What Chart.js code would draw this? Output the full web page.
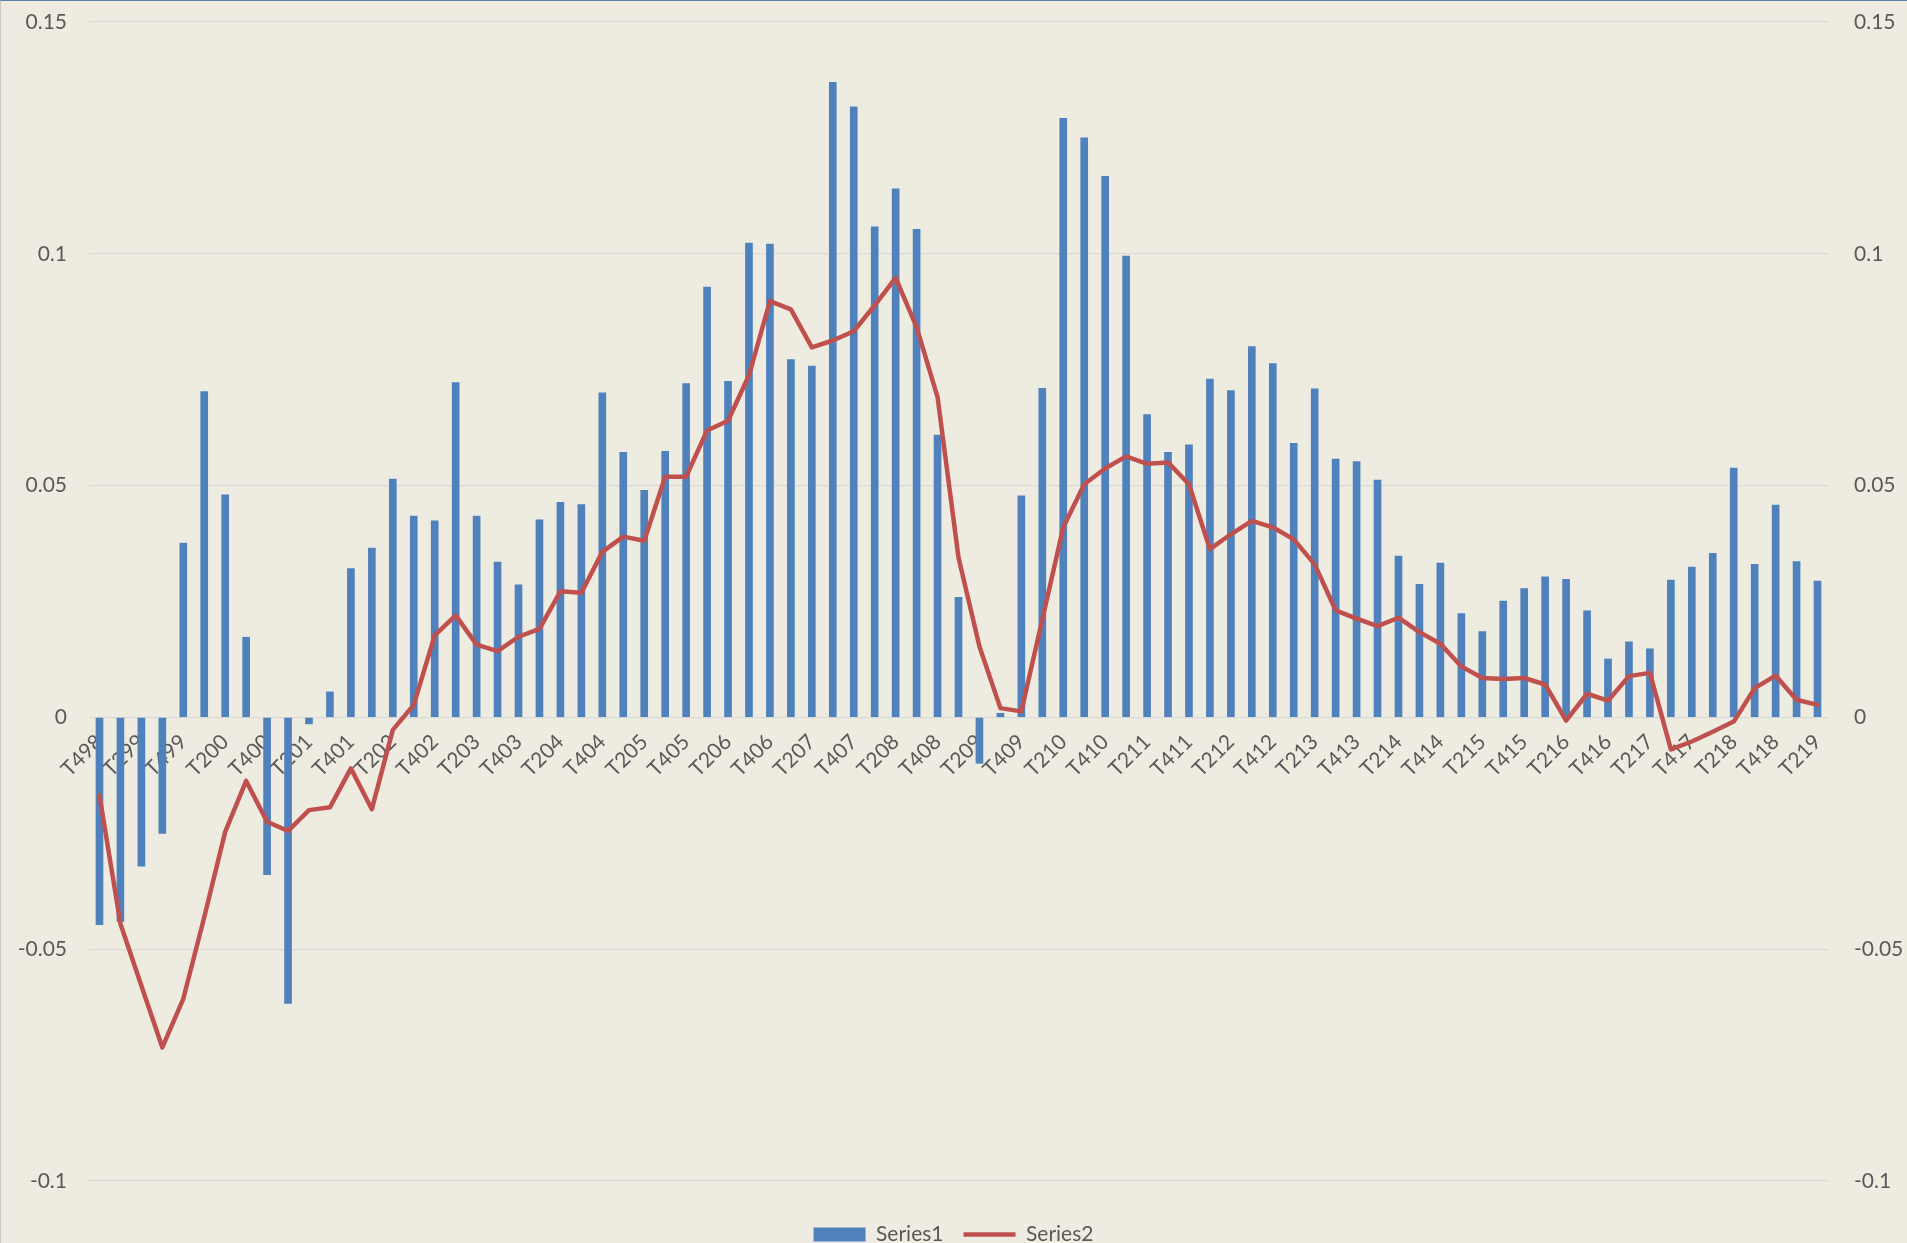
<!DOCTYPE html>
<html>
<head>
<meta charset="utf-8">
<title>Series1 / Series2</title>
<script src="https://cdn.jsdelivr.net/npm/chart.js@4.4.1/dist/chart.umd.min.js"></script>
<style>
  html, body { margin: 0; padding: 0; overflow: hidden; background: #EEECE1; }
  #wrap { position: relative; width: 1907px; height: 1255px; }
  #frame { position: absolute; left: 0; top: 0; width: 1906px; height: 1254px;
           border-top: 1px solid #5b7fa6; border-left: 1px solid #c9c9c9; pointer-events: none; }
</style>
</head>
<body>
<div id="wrap">
  <canvas id="chart" width="1907" height="1255"></canvas>
  <div id="frame"></div>
</div>
<script>
// quarters, Q4 1998 .. Q2 2019 (only every other one is labelled on the axis)
const categories = [
  'T498',
  'T199','T299','T399','T499',
  'T100','T200','T300','T400',
  'T101','T201','T301','T401',
  'T102','T202','T302','T402',
  'T103','T203','T303','T403',
  'T104','T204','T304','T404',
  'T105','T205','T305','T405',
  'T106','T206','T306','T406',
  'T107','T207','T307','T407',
  'T108','T208','T308','T408',
  'T109','T209','T309','T409',
  'T110','T210','T310','T410',
  'T111','T211','T311','T411',
  'T112','T212','T312','T412',
  'T113','T213','T313','T413',
  'T114','T214','T314','T414',
  'T115','T215','T315','T415',
  'T116','T216','T316','T416',
  'T117','T217','T317','T417',
  'T118','T218','T318','T418',
  'T119','T219'
];

// bars
const series1 = [
  -0.0447, -0.0440, -0.0321, -0.0250, 0.0376, 0.0703, 0.0480, 0.0173, -0.0339, -0.0617,
  -0.0014, 0.0055, 0.0321, 0.0365, 0.0514, 0.0434, 0.0424, 0.0722, 0.0434, 0.0335,
  0.0286, 0.0426, 0.0464, 0.0459, 0.0700, 0.0572, 0.0490, 0.0574, 0.0720, 0.0928,
  0.0725, 0.1023, 0.1021, 0.0772, 0.0758, 0.1370, 0.1317, 0.1058, 0.1140, 0.1053,
  0.0609, 0.0259, -0.0099, 0.0009, 0.0478, 0.0710, 0.1292, 0.1250, 0.1167, 0.0995,
  0.0653, 0.0572, 0.0588, 0.0730, 0.0705, 0.0800, 0.0763, 0.0591, 0.0709, 0.0557,
  0.0552, 0.0512, 0.0348, 0.0287, 0.0333, 0.0224, 0.0185, 0.0251, 0.0278, 0.0303,
  0.0298, 0.0230, 0.0126, 0.0163, 0.0148, 0.0296, 0.0324, 0.0354, 0.0538, 0.0330,
  0.0458, 0.0336, 0.0294
];

// line (secondary axis)
const series2 = [
  -0.0168, -0.0445, -0.0579, -0.0712, -0.0607, -0.0431, -0.0247, -0.0137, -0.0225, -0.0245,
  -0.0200, -0.0194, -0.0110, -0.0198, -0.0027, 0.0027, 0.0177, 0.0220, 0.0157, 0.0143,
  0.0174, 0.0191, 0.0272, 0.0269, 0.0357, 0.0390, 0.0381, 0.0519, 0.0519, 0.0619,
  0.0640, 0.0738, 0.0898, 0.0880, 0.0798, 0.0813, 0.0833, 0.0889, 0.0948, 0.0842,
  0.0691, 0.0345, 0.0153, 0.0020, 0.0013, 0.0211, 0.0410, 0.0503, 0.0537, 0.0563,
  0.0547, 0.0550, 0.0503, 0.0363, 0.0395, 0.0424, 0.0410, 0.0384, 0.0330, 0.0231,
  0.0213, 0.0197, 0.0215, 0.0184, 0.0159, 0.0110, 0.0085, 0.0083, 0.0085, 0.0071,
  -0.0007, 0.0051, 0.0036, 0.0089, 0.0096, -0.0069, -0.0052, -0.0031, -0.0009, 0.0063,
  0.0090, 0.0038, 0.0027
];

const axisMin = -0.1;
const axisMax = 0.15;
const axisStep = 0.05;

const textColor = '#595959';
const font = { family: 'Lato, "Open Sans", sans-serif', size: 21 };
const fmt = v => String(Math.round(v * 100) / 100);

// fixed axis widths, and don't let the tick padding push the plot down
const fixAxis = w => s => { s.width = w; s.paddingTop = 0; s.paddingBottom = 0; };

new Chart(document.getElementById('chart'), {
  data: {
    labels: categories,
    datasets: [
      { type: 'bar', label: 'Series1', data: series1, yAxisID: 'y', order: 2,
        backgroundColor: '#4F81BD', barThickness: 7, pointStyle: 'rect' },
      { type: 'line', label: 'Series2', data: series2, yAxisID: 'y1', order: 1,
        borderColor: '#C0504D', backgroundColor: '#C0504D', borderWidth: 4.5,
        pointRadius: 0, tension: 0, borderJoinStyle: 'round', borderCapStyle: 'round',
        pointStyle: 'line' }
    ]
  },
  options: {
    responsive: false,
    animation: false,
    layout: { padding: { top: 22, left: 0, right: 0, bottom: 0 } },
    plugins: {
      tooltip: { enabled: false },
      legend: {
        position: 'bottom',
        labels: { usePointStyle: true, pointStyleWidth: 52, boxHeight: 14, padding: 20,
                  color: textColor, font: font,
                  sort: (a, b) => a.datasetIndex - b.datasetIndex },
        // empty title only used as a spacer between plot and legend
        title: { display: true, text: '', font: { size: 1, lineHeight: 1 }, padding: { top: 22, bottom: 0 } }
      }
    },
    scales: {
      x: {
        type: 'category',
        position: { y: 0 },
        offset: true,
        grid: { display: false },
        border: { display: false },
        ticks: {
          autoSkip: false, minRotation: 45, maxRotation: 45, padding: 4,
          color: textColor, font: font,
          callback: (v, i) => (i % 2 === 0 ? categories[i] : '')
        }
      },
      y: {
        position: 'left', min: axisMin, max: axisMax,
        ticks: { stepSize: axisStep, padding: 22, color: textColor, font: font, callback: fmt },
        grid: { color: '#D9D9D9', lineWidth: 1.3, drawTicks: false },
        border: { display: false },
        afterFit: fixAxis(89)
      },
      y1: {
        position: 'right', min: axisMin, max: axisMax,
        ticks: { stepSize: axisStep, padding: 26, color: textColor, font: font, callback: fmt },
        grid: { display: false, drawTicks: false },
        border: { display: false },
        afterFit: fixAxis(79)
      }
    }
  }
});
</script>
</body>
</html>
